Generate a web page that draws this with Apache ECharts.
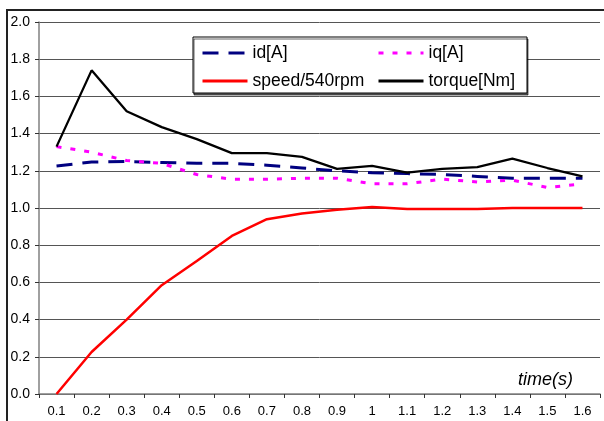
<!DOCTYPE html>
<html>
<head>
<meta charset="utf-8">
<script src="https://cdn.jsdelivr.net/npm/echarts@6/dist/echarts.min.js"></script>
<style>html,body{margin:0;padding:0;background:#fff;}#c{width:604px;height:421px;}</style>
</head>
<body>
<div id="c"></div>
<script>
var categories = ['0.1','0.2','0.3','0.4','0.5','0.6','0.7','0.8','0.9','1','1.1','1.2','1.3','1.4','1.5','1.6'];
var idA    = [1.226,1.247,1.25,1.245,1.24,1.24,1.23,1.215,1.20,1.19,1.185,1.18,1.17,1.16,1.16,1.16];
var iqA    = [1.33,1.30,1.255,1.24,1.18,1.155,1.155,1.16,1.16,1.13,1.13,1.155,1.14,1.15,1.11,1.13];
var speed  = [0.0,0.226,0.40,0.585,0.715,0.85,0.94,0.97,0.99,1.005,0.995,0.995,0.995,1.0,1.0,1.0];
var torque = [1.33,1.74,1.52,1.435,1.37,1.295,1.295,1.275,1.21,1.226,1.19,1.21,1.22,1.265,1.215,1.17];
var yTicks = [0,0.2,0.4,0.6,0.8,1.0,1.2,1.4,1.6,1.8,2.0];

var chart = echarts.init(document.getElementById('c'), null, {renderer:'canvas'});
var font = 'Liberation Sans, Arial, sans-serif';
function lg(name, left, top) {
  return {
    data:[name], left:left, top:top, orient:'horizontal', z:6,
    itemWidth:45, itemHeight:14, itemGap:0, padding:0,
    itemStyle:{opacity:0},
    lineStyle:{width:3},
    textStyle:{fontFamily:font, fontSize:17.5, color:'#000', padding:[0,0,0,0]}
  };
}
chart.setOption({
  animation:false,
  backgroundColor:'#fff',
  grid:{left:39, right:4, top:22, bottom:27},
  graphic:[
    {type:'rect', z:0, shape:{x:7, y:10, width:700, height:500}, style:{fill:'none', stroke:'#222', lineWidth:2}},
    {type:'rect', z:3, shape:{x:193, y:37, width:334, height:56}, style:{fill:'#fff', stroke:'#000', lineWidth:1, shadowColor:'rgba(0,0,0,0.6)', shadowOffsetX:1, shadowOffsetY:2, shadowBlur:0}}
  ],
  title:{text:'time(s)', right:26, top:366, textStyle:{fontFamily:font, fontSize:18, fontStyle:'italic', fontWeight:'normal', color:'#000'}},
  legend:[lg('id[A]',201,44), lg('iq[A]',377,44), lg('speed/540rpm',201,72), lg('torque[Nm]',377,72)],
  xAxis:{
    type:'category', data:categories, boundaryGap:true,
    axisLine:{lineStyle:{color:'#808080', width:1.5}},
    axisTick:{show:true, interval:0, length:4, lineStyle:{color:'#333'}},
    axisLabel:{interval:0, margin:11, fontFamily:font, fontSize:13, color:'#000'}
  },
  yAxis:{
    type:'value', min:0, max:2, interval:0.2,
    axisLine:{show:true, lineStyle:{color:'#808080', width:1.5}},
    axisTick:{show:true, length:4, lineStyle:{color:'#333'}},
    axisLabel:{margin:9, fontFamily:font, fontSize:14, color:'#000', formatter:function(v){return v.toFixed(1);}},
    splitLine:{show:true, lineStyle:{color:'#555', width:1}}
  },
  series:[
    {name:'id[A]', type:'line', data:idA, symbol:'none', lineStyle:{color:'#000080', width:3, type:[16,10]}, itemStyle:{color:'#000080'}, z:3},
    {name:'iq[A]', type:'line', data:iqA, symbol:'none', lineStyle:{color:'#FF00FF', width:3, type:[5,9]}, itemStyle:{color:'#FF00FF'}, z:3},
    {name:'speed/540rpm', type:'line', data:speed, symbol:'none', lineStyle:{color:'#FF0000', width:2.5}, itemStyle:{color:'#FF0000'}, z:3},
    {name:'torque[Nm]', type:'line', data:torque, symbol:'none', lineStyle:{color:'#000000', width:2.3}, itemStyle:{color:'#000000'}, z:3}
  ]
});
</script>
</body>
</html>
